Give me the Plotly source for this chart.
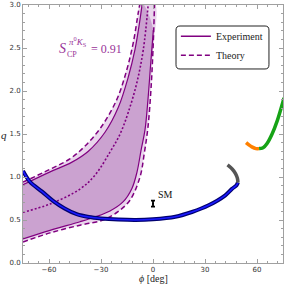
import plotly.graph_objects as go

# ---- data ----
# experiment (solid) band boundaries
exp_upper_phi = [-75, -59.4, -47.0, -37.3, -27.7, -20.0, -14.3, -10.4, -7.5, -6.2]
exp_upper_q = [0.91, 1.06, 1.17, 1.30, 1.52, 1.81, 2.16, 2.48, 2.83, 3.02]
exp_lower_phi = [-75, -59.4, -42.1, -33.5, -24.8, -17.3, -12.1, -9.2, -6.9, -4.6, -2.9, -1.4, 0.2]
exp_lower_q = [0.28, 0.38, 0.48, 0.535, 0.605, 0.71, 0.87, 1.06, 1.31, 1.55, 1.90, 2.30, 2.71]

# theory (dashed) band boundaries
th_upper_phi = [-75, -59.4, -48.0, -39.2, -29.6, -20.9, -15.2, -11.4, -8.5, -7.5]
th_upper_q = [0.94, 1.09, 1.21, 1.36, 1.59, 1.90, 2.24, 2.56, 2.91, 3.02]
th_lower_phi = [-75, -59.4, -42.1, -28.9, -20.0, -13.3, -7.5, -5.0, -2.9, -1.2, 0.0, 0.9]
th_lower_q = [0.245, 0.35, 0.44, 0.50, 0.60, 0.73, 1.00, 1.28, 1.58, 2.01, 2.48, 3.02]

# central (dotted) curve
mid_phi = [-75, -59.4, -42.1, -33.5, -24.8, -19.0, -14.3, -9.4, -5.6, -2.7]
mid_q = [0.59, 0.686, 0.86, 1.02, 1.29, 1.50, 1.75, 2.09, 2.48, 3.02]

# blue / gray curve
blue_phi = [-75, -71.0, -64.0, -57.5, -51.0, -44.0, -37.0, -30.0, -20.0, -10.0, 0.0,
            12.9, 22.5, 32.1, 41.7, 45.6, 48.2, 49.0]
blue_q = [1.07, 0.945, 0.83, 0.72, 0.635, 0.568, 0.535, 0.518, 0.505, 0.50, 0.508,
          0.538, 0.593, 0.671, 0.787, 0.862, 0.905, 0.935]
gray_phi = [49.0, 48.7, 47.6, 45.8, 43.0]
gray_q = [0.935, 0.985, 1.04, 1.09, 1.14]

orange_phi = [53.7, 55.5, 57.0, 59.4, 61.2]
orange_q = [1.40, 1.37, 1.35, 1.33, 1.33]
green_phi = [61.2, 63.5, 65.8, 68.7, 71.6, 73.9, 75.6]
green_q = [1.33, 1.34, 1.39, 1.50, 1.65, 1.80, 1.92]

sm_phi = [0.0]
sm_q = [0.69]
sm_err = [0.035]

x_ticks = [-60, -30, 0, 30, 60]
y_ticks = [0.0, 0.5, 1.0, 1.5, 2.0, 2.5, 3.0]
y_ticklabels = ["0.0", "0.5", "1.0", "1.5", "2.0", "2.5", "3.0"]

PURPLE = "#800080"
LIGHT_FILL = "#E9D5EC"
DARK_FILL = "#CBA2D0"

fig = go.Figure()

# light (theory) fill
fig.add_trace(go.Scatter(
    x=th_lower_phi + th_upper_phi[::-1], y=th_lower_q + th_upper_q[::-1],
    fill="toself", fillcolor=LIGHT_FILL, line=dict(width=0, shape="spline"), mode="lines",
    showlegend=False, hoverinfo="skip"))
# dark (experiment) fill
fig.add_trace(go.Scatter(
    x=exp_lower_phi + exp_upper_phi[::-1], y=exp_lower_q + exp_upper_q[::-1],
    fill="toself", fillcolor=DARK_FILL, line=dict(width=0, shape="spline"), mode="lines",
    showlegend=False, hoverinfo="skip"))

# theory dashed lines
fig.add_trace(go.Scatter(x=th_upper_phi, y=th_upper_q, mode="lines",
                         line=dict(color=PURPLE, width=1.5, dash="5px,3px", shape="spline"),
                         showlegend=False))
fig.add_trace(go.Scatter(x=th_lower_phi, y=th_lower_q, mode="lines",
                         line=dict(color=PURPLE, width=1.5, dash="5px,3px", shape="spline"),
                         showlegend=False))
# experiment solid lines
fig.add_trace(go.Scatter(x=exp_upper_phi, y=exp_upper_q, mode="lines",
                         line=dict(color=PURPLE, width=1.2, shape="spline"), showlegend=False))
fig.add_trace(go.Scatter(x=exp_lower_phi, y=exp_lower_q, mode="lines",
                         line=dict(color=PURPLE, width=1.2, shape="spline"), showlegend=False))
# dotted centre
fig.add_trace(go.Scatter(x=mid_phi, y=mid_q, mode="lines",
                         line=dict(color=PURPLE, width=1.6, dash="2px,2px", shape="spline"),
                         showlegend=False))

# blue curve with dark edge
fig.add_trace(go.Scatter(x=blue_phi, y=blue_q, mode="lines",
                         line=dict(color="#000070", width=4, shape="spline"), showlegend=False))
fig.add_trace(go.Scatter(x=blue_phi, y=blue_q, mode="lines",
                         line=dict(color="#1a1aff", width=1.6, shape="spline"), showlegend=False))
fig.add_trace(go.Scatter(x=gray_phi, y=gray_q, mode="lines",
                         line=dict(color="#555555", width=3.5, shape="spline"), showlegend=False))
fig.add_trace(go.Scatter(x=orange_phi, y=orange_q, mode="lines",
                         line=dict(color="#FF8000", width=3.5, shape="spline"), showlegend=False))
fig.add_trace(go.Scatter(x=green_phi, y=green_q, mode="lines",
                         line=dict(color="#16A316", width=3.5, shape="spline"), showlegend=False))

# SM point
fig.add_trace(go.Scatter(x=sm_phi, y=sm_q, mode="markers",
                         marker=dict(size=2, color="black"),
                         error_y=dict(type="data", array=sm_err, color="black", thickness=1.8, width=2),
                         showlegend=False))

# legend entries
fig.add_trace(go.Scatter(x=[None], y=[None], mode="lines", name="Experiment",
                         line=dict(color=PURPLE, width=1.5)))
fig.add_trace(go.Scatter(x=[None], y=[None], mode="lines", name="Theory",
                         line=dict(color=PURPLE, width=1.5, dash="5px,3px")))

axis_common = dict(showline=True, linecolor="#a0a0a0", linewidth=1, mirror="ticks",
                   ticks="inside", tickcolor="#a0a0a0", ticklen=4, tickwidth=1,
                   showgrid=False, zeroline=False, automargin=False,
                   tickfont=dict(family="DejaVu Sans", size=7, color="#333333"))

fig.update_layout(
    width=284, height=294,
    margin=dict(l=23, r=1, t=5, b=31),
    paper_bgcolor="white", plot_bgcolor="white",
    xaxis=dict(range=[-75, 75], tickvals=x_ticks,
               minor=dict(ticks="inside", dtick=6, ticklen=2, tickcolor="#a0a0a0"),
               **axis_common),
    yaxis=dict(range=[0, 3], tickvals=y_ticks, ticktext=y_ticklabels,
               minor=dict(ticks="inside", dtick=0.1, ticklen=2, tickcolor="#a0a0a0"),
               **axis_common),
    showlegend=True,
    legend=dict(x=0.588, y=0.935, xanchor="left", yanchor="top",
                bgcolor="rgba(0,0,0,0)", borderwidth=0,
                font=dict(family="Liberation Serif", size=10, color="#222222"),
                tracegroupgap=0),
    shapes=[dict(type="path", xref="paper", yref="paper",
                 path="M 0.604,0.9186 L 0.931,0.9186 Q 0.946,0.9186 0.946,0.903 "
                      "L 0.946,0.768 Q 0.946,0.752 0.931,0.752 L 0.604,0.752 "
                      "Q 0.5885,0.752 0.5885,0.768 L 0.5885,0.903 Q 0.5885,0.9186 0.604,0.9186 Z",
                 line=dict(color="#222222", width=1), fillcolor="white", layer="above")],
    annotations=[
        dict(x=0.0, y=0.69, xref="x", yref="y", text="SM", showarrow=False,
             xshift=12, yshift=9, font=dict(family="Liberation Serif", size=10, color="#111111")),
        dict(x=-52, y=2.5, xref="x", yref="y", text="<i>S</i>", showarrow=False,
             font=dict(family="Liberation Serif", size=14, color="#993399")),
        dict(x=-43.5, y=2.575, xref="x", yref="y", text="<i>π</i><sup>0</sup><i>K</i><sub>S</sub>",
             showarrow=False, font=dict(family="Liberation Serif", size=9, color="#993399")),
        dict(x=-46.5, y=2.42, xref="x", yref="y", text="CP",
             showarrow=False, font=dict(family="Liberation Serif", size=8, color="#993399")),
        dict(x=-27.0, y=2.49, xref="x", yref="y", text="= 0.91",
             showarrow=False, font=dict(family="Liberation Serif", size=12, color="#993399")),
        dict(x=-0.055, y=0.496, xref="paper", yref="paper", text="<i>q</i>", showarrow=False,
             xanchor="right", font=dict(family="Liberation Serif", size=11, color="#222222")),
        dict(x=0.5, y=-0.088, xref="paper", yref="paper", text="<i>ϕ</i> [deg]", showarrow=False,
             font=dict(family="Liberation Serif", size=10, color="#222222")),
    ],
)

fig.write_html("out.html", config={"displayModeBar": False},
               post_script="document.body.style.margin='0';document.body.style.overflow='hidden';")
